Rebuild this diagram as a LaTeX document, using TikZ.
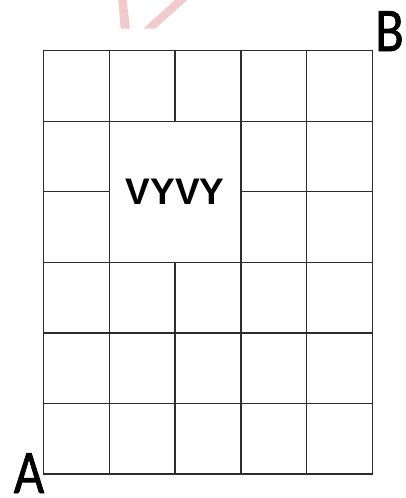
\documentclass[tikz,border=0pt]{standalone}
\usepackage{fontspec}
\setmainfont{Liberation Sans}
\newfontfamily\cornerfont[FakeBold=1.2]{Carlito}
\usetikzlibrary{positioning}
\definecolor{gridline}{RGB}{45,45,45}
\definecolor{faint}{RGB}{242,202,204}

\begin{document}
\begin{tikzpicture}[x=1pt,y=-1pt]
  \useasboundingbox (0,0) rectangle (405,498);
  % faint mark at the top edge
  \fill[faint] (118.3,0)--(126.7,0)--(130,28.7)--(120.7,28.7)--cycle;
  \fill[faint] (175,0)--(187.3,0)--(155,28.7)--(143.3,28.7)--cycle;
  \begin{scope}[shift={(43.5,50.7)},x=65.8pt,y=-70.55pt,line width=1.3pt,gridline]
    \draw (0,0) rectangle (5,6);
    \foreach \k in {1,3,4} \draw (\k,0)--(\k,6);
    \draw (2,0)--(2,1); \draw (2,3)--(2,6);
    \foreach \k in {1,3,4,5} \draw (0,\k)--(5,\k);
    \draw (0,2)--(1,2); \draw (3,2)--(5,2);
    \coordinate (corA) at (0,6); \coordinate (corB) at (5,0);
    \node[font=\bfseries\fontsize{37}{37}\selectfont,text=black,inner sep=0] (block) at (2,2) {VYVY};
  \end{scope}
  \node[font=\cornerfont\fontsize{62}{62}\selectfont,inner sep=0,anchor=base] (endA) at (29,493) {\scalebox{0.85}[1]{A}};
  \node[font=\cornerfont\fontsize{62}{62}\selectfont,inner sep=0,anchor=base] (endB) at (389.5,51) {\scalebox{0.85}[1]{B}};
\end{tikzpicture}
\end{document}
